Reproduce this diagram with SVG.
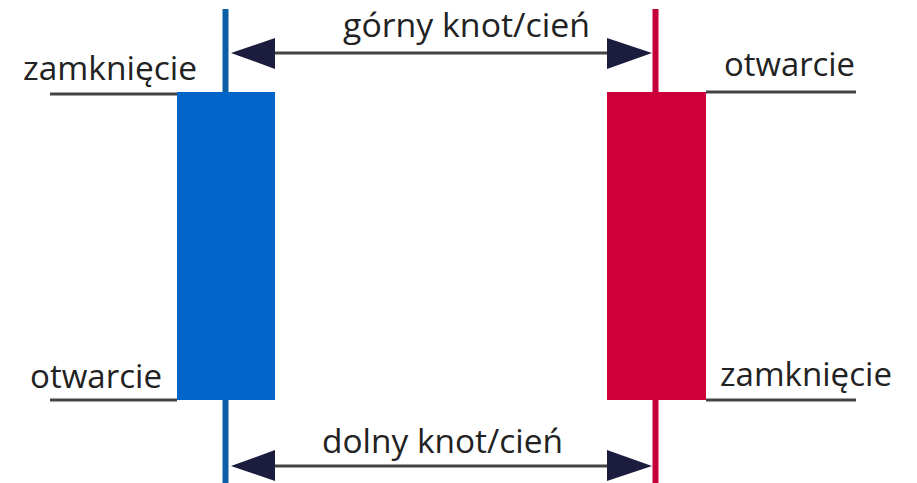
<svg xmlns="http://www.w3.org/2000/svg" width="917" height="483" viewBox="0 0 917 483">
<style>
.t{font-family:"Open Sans","Liberation Sans",sans-serif;font-size:33px;fill:#222}
.ln{stroke:#444;stroke-width:3}
.ah{fill:#1c1c3e}
</style>
<rect width="917" height="483" fill="#fff"/>
<g id="blue-candle">
<rect x="222.5" y="9" width="6" height="474" fill="#0b5fa5"/>
<rect x="177" y="92" width="98" height="308" fill="#0064c8"/>
</g>
<g id="red-candle">
<rect x="652.5" y="9" width="6" height="474" fill="#c4003a"/>
<rect x="607" y="92" width="99" height="308" fill="#cf0039"/>
</g>
<g id="labels">
<line class="ln" x1="50" y1="94" x2="177" y2="94"/>
<text class="t" x="23" y="80" textLength="174" lengthAdjust="spacingAndGlyphs">zamknięcie</text>
<line class="ln" x1="706" y1="92" x2="856" y2="92"/>
<text class="t" x="724" y="76" textLength="131" lengthAdjust="spacingAndGlyphs">otwarcie</text>
<line class="ln" x1="50" y1="400" x2="177" y2="400"/>
<text class="t" x="30" y="388" textLength="132" lengthAdjust="spacingAndGlyphs">otwarcie</text>
<line class="ln" x1="706" y1="400" x2="856" y2="400"/>
<text class="t" x="720" y="386" textLength="172" lengthAdjust="spacingAndGlyphs">zamknięcie</text>
<text class="t" x="343" y="37" textLength="247" lengthAdjust="spacingAndGlyphs">górny knot/cień</text>
<text class="t" x="322" y="453" textLength="241" lengthAdjust="spacingAndGlyphs">dolny knot/cień</text>
</g>
<g id="connectors">
<line class="ln" x1="270" y1="53" x2="612" y2="53"/>
<polygon class="ah" points="231,53 275,38 275,69"/>
<polygon class="ah" points="652,53 607,38 607,69"/>
<line class="ln" x1="270" y1="466" x2="612" y2="466"/>
<polygon class="ah" points="231,466 275,450 275,481"/>
<polygon class="ah" points="652,466 607,450 607,481"/>
</g>
</svg>
